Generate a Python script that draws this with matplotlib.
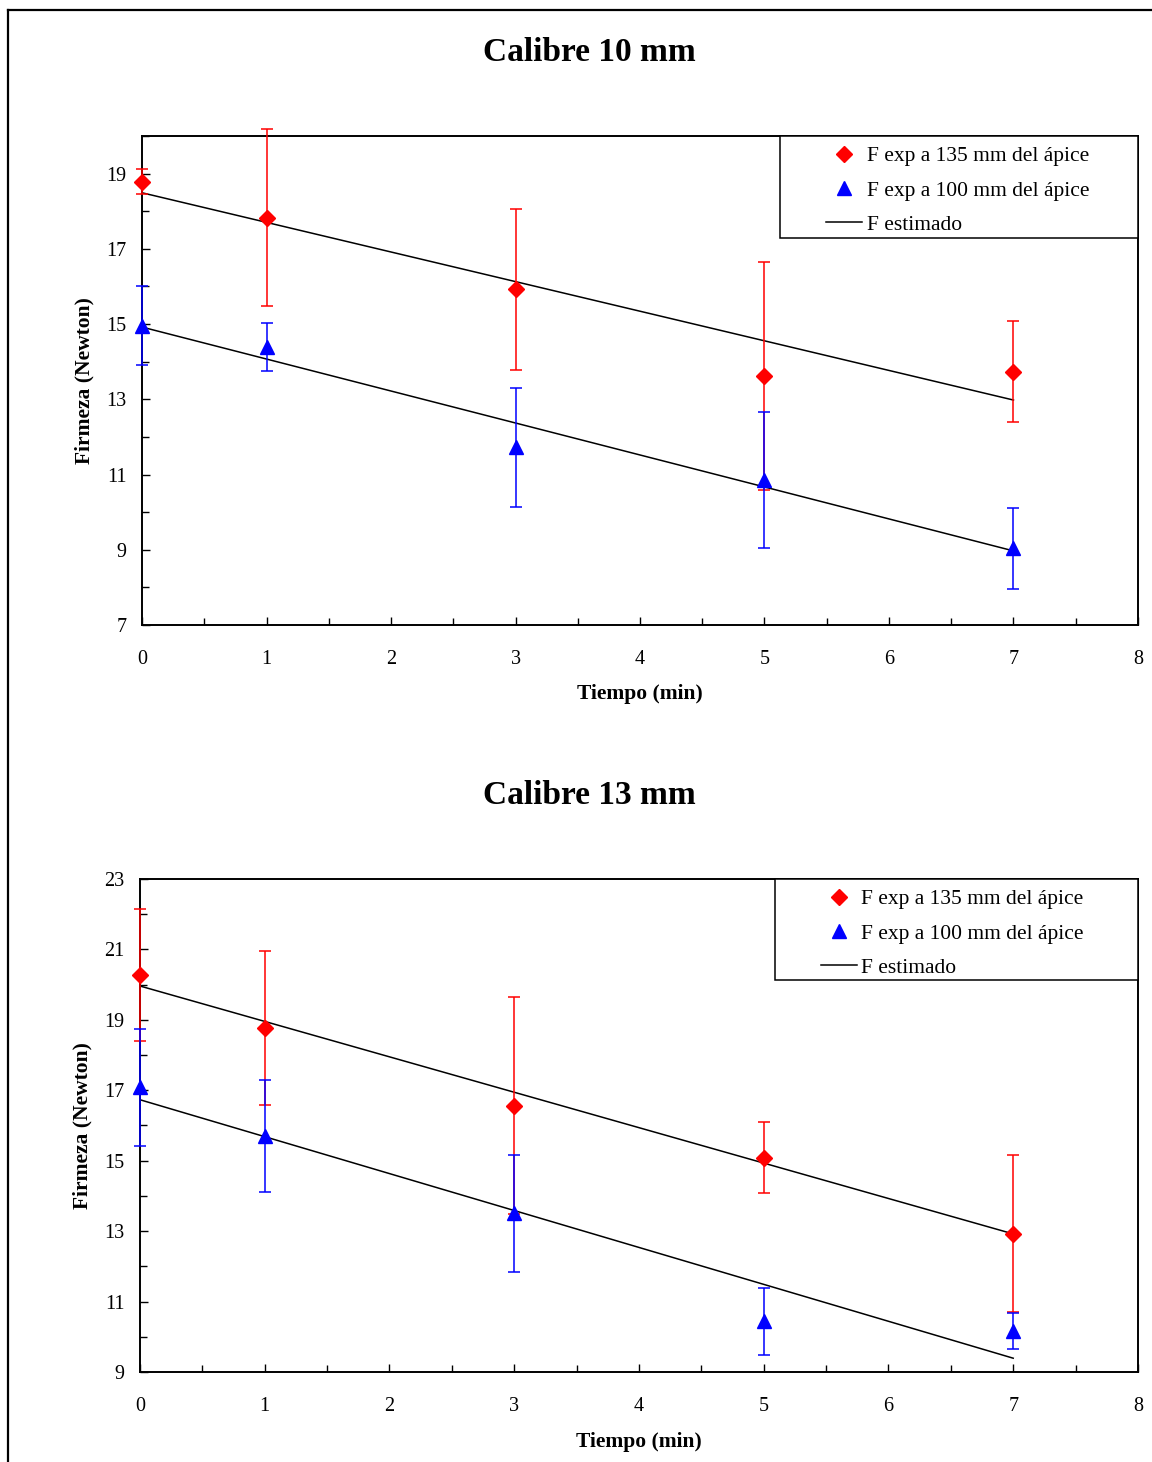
"""Firmeza vs tiempo, calibres 10 mm y 13 mm (two stacked panels)."""

import matplotlib

matplotlib.use("Agg")
import matplotlib.pyplot as plt  # noqa: E402
from matplotlib.lines import Line2D  # noqa: E402
from matplotlib.patches import Rectangle  # noqa: E402
from matplotlib.ticker import MultipleLocator  # noqa: E402

plt.rcParams["font.family"] = ["Liberation Serif", "DejaVu Serif"]

# --- data ---
tiempo = [0, 1, 3, 5, 7]
t_est = [0, 7]

# Calibre 10 mm
f135_10 = [18.78, 17.83, 15.92, 13.62, 13.73]
e135_10 = [0.33, 2.35, 2.13, 3.03, 1.34]
f100_10 = [14.96, 14.40, 11.72, 10.85, 9.04]
e100_10 = [1.06, 0.64, 1.57, 1.80, 1.08]
est135_10 = [18.49, 12.98]
est100_10 = [14.92, 8.97]

# Calibre 13 mm
f135_13 = [20.28, 18.77, 16.56, 15.08, 12.93]
e135_13 = [1.87, 2.19, 3.08, 1.01, 2.22]
f100_13 = [17.08, 15.70, 13.50, 10.44, 10.16]
e100_13 = [1.65, 1.58, 1.65, 0.95, 0.50]
est135_13 = [19.96, 12.92]
est100_13 = [16.73, 9.39]

RED, BLUE = "#ff0000", "#0000ff"
LABELS = ["F exp a 135 mm del ápice", "F exp a 100 mm del ápice", "F estimado"]


def _unclip(container):
    for art in container.get_children():
        art.set_clip_on(False)


def panel(ax, f135, e135, f100, e100, est135, est100, ylim, yticks, box):
    ax.plot(t_est, est135, color="black", lw=1.1, zorder=2)
    ax.plot(t_est, est100, color="black", lw=1.1, zorder=2)
    eb = ax.errorbar(tiempo, f135, yerr=e135, fmt="D", color=RED, ms=8.5,
                     elinewidth=1.1, capsize=4, capthick=1.1, zorder=3)
    _unclip(eb)
    eb = ax.errorbar(tiempo, f100, yerr=e100, fmt="^", color=BLUE, ms=10.5,
                     elinewidth=1.1, capsize=4, capthick=1.1, zorder=4)
    _unclip(eb)
    ax.set_xlim(0, 8)
    ax.set_ylim(*ylim)
    ax.set_xticks(range(0, 9))
    ax.xaxis.set_minor_locator(MultipleLocator(0.5))
    ax.set_yticks(yticks)
    ax.yaxis.set_minor_locator(MultipleLocator(1))
    ax.tick_params(which="both", direction="in", labelsize=14.5, width=1)
    ax.tick_params(which="major", length=6)
    ax.tick_params(which="minor", length=5)
    ax.tick_params(axis="x", pad=18)
    ax.tick_params(axis="y", pad=11)
    for s in ax.spines.values():
        s.set_linewidth(1.4)
    ax.set_xlabel("Tiempo (min)", fontsize=15.5, fontweight="bold")
    ax.set_ylabel("Firmeza (Newton)", fontsize=15.5, fontweight="bold")
    ax.xaxis.set_label_coords(0.5, -0.121)
    ax.yaxis.set_label_coords(-0.048, 0.5)

    # legend frame (box flush with the upper-right corner) + frameless legend
    x0, y0 = box
    ax.add_patch(Rectangle((x0, y0), 1 - x0, 1 - y0, transform=ax.transAxes,
                           facecolor="white", edgecolor="black", lw=1.1,
                           zorder=5, clip_on=False))
    handles = [
        Line2D([], [], ls="none", marker="D", color=RED, ms=8.5),
        Line2D([], [], ls="none", marker="^", color=BLUE, ms=10.5),
        Line2D([], [], color="black", lw=1.1),
    ]
    leg = ax.legend(handles, LABELS, loc="upper left",
                    bbox_to_anchor=(x0 + 0.046, 0.979), frameon=False,
                    fontsize=15.5, handlelength=1.7, handletextpad=0.2,
                    labelspacing=0.66, borderpad=0, borderaxespad=0)
    leg.set_zorder(6)


fig = plt.figure(figsize=(11.52, 14.62), dpi=100)

ax1 = fig.add_axes([0.1233, 0.5725, 0.8645, 0.3345])
panel(ax1, f135_10, e135_10, f100_10, e100_10, est135_10, est100_10,
      (7, 20), range(7, 20, 2), (0.6406, 0.7914))
fig.text(0.512, 0.9638, "Calibre 10 mm", ha="center", va="center",
         fontsize=24, fontweight="bold")

ax2 = fig.add_axes([0.1215, 0.0616, 0.8663, 0.3372])
panel(ax2, f135_13, e135_13, f100_13, e100_13, est135_13, est100_13,
      (9, 23), range(9, 24, 2), (0.636, 0.795))
fig.text(0.512, 0.4556, "Calibre 13 mm", ha="center", va="center",
         fontsize=24, fontweight="bold")

# outer page frame (top and left edges only show in the reference)
fig.add_artist(Line2D([0.007, 1.0], [0.9932, 0.9932], color="black", lw=1.6,
                      transform=fig.transFigure))
fig.add_artist(Line2D([0.007, 0.007], [0.0, 0.9932], color="black", lw=1.6,
                      transform=fig.transFigure))

fig.savefig("out.png", dpi=100)
